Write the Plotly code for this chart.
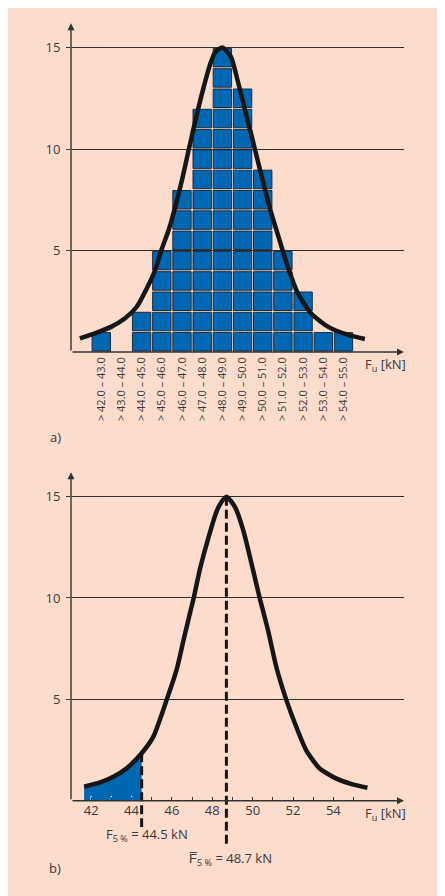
"""
Histogram of ultimate loads F_u with fitted curve (a) and 5 % fractile (b).
"""

import plotly.graph_objects as go

# ── Data ──────────────────────────────────────────────────────────────────────
class_lower = [42, 43, 44, 45, 46, 47, 48, 49, 50, 51, 52, 53, 54]
class_counts = [1, 0, 2, 5, 8, 12, 15, 13, 9, 5, 3, 1, 1]
class_labels = [f"> {lo:.1f} – {lo + 1:.1f}" for lo in class_lower]

# fitted curve, panel a)
curve_a_x = [41.44, 42.18, 43.01, 43.68, 44.26, 44.76, 45.17, 45.47, 45.84, 46.17,
             46.5, 46.83, 47.17, 47.58, 47.91, 48.16, 48.5, 48.92, 49.25, 49.58,
             50.0, 50.41, 50.83, 51.33, 51.74, 52.24, 52.9, 53.73, 54.73, 55.56]
curve_a_y = [0.67, 0.92, 1.25, 1.66, 2.23, 3.14, 4.04, 5.0, 6.01, 7.16,
             8.47, 9.95, 11.43, 13.07, 14.22, 14.79, 15.0, 14.55, 13.4, 12.09,
             10.44, 8.8, 7.16, 5.52, 4.2, 2.89, 1.9, 1.25, 0.84, 0.64]

# fitted curve, panel b)
curve_b_x = [41.65, 42.44, 43.1, 43.76, 44.5, 45.08, 45.75, 46.23, 46.56,
             46.89, 47.08, 47.38, 47.8, 48.21, 48.46, 48.7, 49.12, 49.53,
             50.35, 50.76, 51.17, 51.66, 52.16, 52.65, 53.31, 54.13, 54.95, 55.69]
curve_b_y = [0.69, 0.9, 1.18, 1.6, 2.34, 3.16, 5.0, 6.45, 7.85,
             9.24, 10.0, 11.38, 12.94, 14.26, 14.75, 15.0, 14.5, 13.36,
             10.0, 8.42, 6.61, 5.0, 3.65, 2.5, 1.6, 1.1, 0.81, 0.64]

f5_value = 44.5       # 5 % fractile [kN]
f_mean = 48.7         # mean value [kN]
f5_label = "F<sub>5 %</sub> = 44.5 kN"
fmean_label = "F\u0305<sub>5 %</sub> = 48.7 kN"

y_ticks = [5, 10, 15]
x_ticks_b = list(range(42, 56))

# ── Style ─────────────────────────────────────────────────────────────────────
PEACH = "#FCDCCD"
BLUE = "#0067B2"
CELL_EDGE = "#1D2B3A"
INK = "#3A3A3A"
FONT = "Open Sans, sans-serif"

W, H = 437, 888          # page body adds an 8 px margin
X_RANGE = [41.0, 57.5]
Y_TOP = 16.2
Y_BOT_B = -2.4

# pixel layout of the two panels (figure coordinates, top-left origin)
A_ZERO = 344.0
a_unit = 20.3
A_TOP = A_ZERO - Y_TOP * a_unit
B_ZERO = 792.7
b_unit = 20.27
B_TOP = B_ZERO - Y_TOP * b_unit
B_BOTTOM = B_ZERO - Y_BOT_B * b_unit


def py(px):
    return (H - px) / H


# ── Figure ────────────────────────────────────────────────────────────────────
fig = go.Figure()

# stacked unit cells for the histogram
cell_x, cell_base = [], []
for lo, n in zip(class_lower, class_counts):
    for k in range(n):
        cell_x.append(lo + 0.5)
        cell_base.append(k + 0.045)
fig.add_trace(go.Bar(
    x=cell_x, y=[0.91] * len(cell_x), base=cell_base, width=0.91,
    marker=dict(color=BLUE, line=dict(color=CELL_EDGE, width=1)),
    xaxis="x", yaxis="y", hoverinfo="skip",
))
fig.add_trace(go.Scatter(
    x=curve_a_x, y=curve_a_y, mode="lines",
    line=dict(color="#161616", width=4.5, shape="spline", smoothing=0.6),
    xaxis="x", yaxis="y", hoverinfo="skip",
))

# panel b): shaded tail below the 5 % fractile
tail_x = [x for x in curve_b_x if x <= f5_value]
tail_y = curve_b_y[:len(tail_x)]
fig.add_trace(go.Scatter(
    x=tail_x, y=tail_y, mode="lines", fill="tozeroy", fillcolor=BLUE,
    line=dict(color=BLUE, width=0, shape="spline", smoothing=0.6),
    xaxis="x2", yaxis="y2", hoverinfo="skip",
))
# white tick marks inside the shaded tail
tail_ticks = [t for t in x_ticks_b if t <= f5_value]
fig.add_trace(go.Scatter(
    x=tail_ticks, y=[0.1] * len(tail_ticks), mode="markers",
    marker=dict(symbol="line-ns", size=4, line=dict(color="white", width=1.2)),
    xaxis="x2", yaxis="y2", hoverinfo="skip",
))
fig.add_trace(go.Scatter(
    x=curve_b_x, y=curve_b_y, mode="lines",
    line=dict(color="#161616", width=4.5, shape="spline", smoothing=0.6),
    xaxis="x2", yaxis="y2", hoverinfo="skip",
))
# dashed markers for fractile and mean
f5_top = curve_b_y[curve_b_x.index(f5_value)]
mean_top = curve_b_y[curve_b_x.index(f_mean)]
fig.add_trace(go.Scatter(
    x=[f5_value, f5_value], y=[f5_top, -1.3], mode="lines",
    line=dict(color="#161616", width=3, dash="9px,4px"),
    xaxis="x2", yaxis="y2", hoverinfo="skip",
))
fig.add_trace(go.Scatter(
    x=[f_mean, f_mean], y=[mean_top, -2.3], mode="lines",
    line=dict(color="#161616", width=3, dash="9px,4px"),
    xaxis="x2", yaxis="y2", hoverinfo="skip",
))

axis_common = dict(showgrid=False, zeroline=False, showline=False, fixedrange=True)
yaxis_common = dict(
    tickvals=y_ticks, ticks="outside", ticklen=4, tickcolor=INK, tickwidth=1,
    showgrid=True, gridcolor="#2E2E2E", gridwidth=1, zeroline=False, showline=False,
    tickfont=dict(size=13, color=INK, family=FONT), ticklabelstandoff=3,
)

x0, x1 = 63 / W, 396 / W
fig.update_layout(
    width=W, height=H,
    margin=dict(l=0, r=0, t=0, b=0),
    paper_bgcolor=PEACH, plot_bgcolor="rgba(0,0,0,0)",
    showlegend=False, barmode="overlay",
    font=dict(family=FONT, color=INK),
    xaxis=dict(**axis_common, domain=[x0, x1], range=X_RANGE, anchor="y",
               tickvals=[lo + 0.5 for lo in class_lower], ticktext=class_labels,
               tickangle=-90, ticks="", ticklabelstandoff=2,
               tickfont=dict(size=11, color=INK, family=FONT)),
    yaxis=dict(**yaxis_common, domain=[py(A_ZERO), py(A_TOP)], range=[0, Y_TOP], anchor="x"),
    xaxis2=dict(**axis_common, domain=[x0, x1], range=X_RANGE, anchor="free",
                position=py(B_ZERO), tickvals=x_ticks_b,
                ticktext=[str(v) if v % 2 == 0 else "" for v in x_ticks_b],
                ticks="inside", ticklen=4, tickcolor=INK, tickwidth=1,
                tickfont=dict(size=13, color=INK, family=FONT)),
    yaxis2=dict(**yaxis_common, domain=[py(B_BOTTOM), py(B_TOP)],
                range=[Y_BOT_B, Y_TOP], anchor="x2"),
)

# axis lines with arrowheads
for xa, ya in (("x", "y"), ("x2", "y2")):
    fig.add_annotation(x=X_RANGE[0], y=Y_TOP, ax=X_RANGE[0], ay=0, xref=xa, yref=ya,
                       axref=xa, ayref=ya, text="", showarrow=True, arrowhead=2,
                       arrowsize=1, arrowwidth=1.4, arrowcolor="#333333", standoff=0)
    fig.add_annotation(x=X_RANGE[1], y=0, ax=X_RANGE[0], ay=0, xref=xa, yref=ya,
                       axref=xa, ayref=ya, text="", showarrow=True, arrowhead=2,
                       arrowsize=1, arrowwidth=1.4, arrowcolor="#333333", standoff=0)

# axis titles (paper coordinates, outside the plotted ranges)
for zero_px in (A_ZERO, B_ZERO):
    fig.add_annotation(x=400 / W, y=py(zero_px + 13), xref="paper", yref="paper",
                       text="F<sub>u</sub> [kN]", showarrow=False,
                       xanchor="right", yanchor="middle",
                       font=dict(size=13, color=INK, family=FONT))

fig.add_annotation(x=44.75, y=-1.7, xref="x2", yref="y2", text=f5_label,
                   showarrow=False, font=dict(size=13, color=INK, family=FONT))
fig.add_annotation(x=222 / W, y=py(851), xref="paper", yref="paper", text=fmean_label,
                   xanchor="center", yanchor="middle", showarrow=False,
                   font=dict(size=13, color=INK, family=FONT))

fig.add_annotation(x=47 / W, y=py(429), xref="paper", yref="paper", text="a)",
                   xanchor="center", yanchor="middle", showarrow=False,
                   font=dict(size=13, color=INK, family=FONT))
fig.add_annotation(x=47 / W, y=py(860), xref="paper", yref="paper", text="b)",
                   xanchor="center", yanchor="middle", showarrow=False,
                   font=dict(size=13, color=INK, family=FONT))

fig.write_html("out.html")
